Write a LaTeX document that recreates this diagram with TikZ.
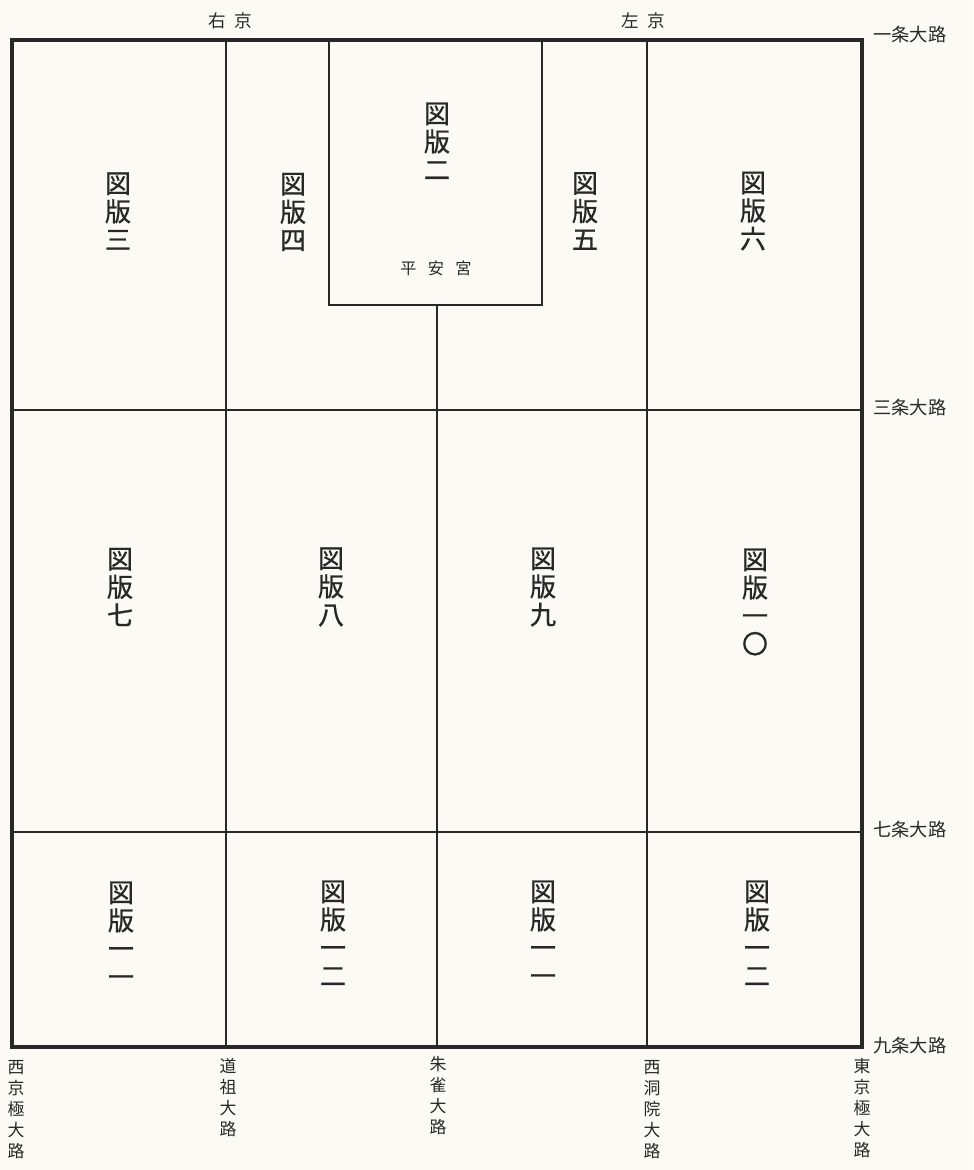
\documentclass[tikz,border=0pt]{standalone}
\usepackage{fontspec}
\newfontfamily\cjk{Noto Sans CJK JP}
\newfontfamily\cjkplate[FakeBold=0.9]{Noto Sans CJK JP}
\usetikzlibrary{positioning}
\definecolor{paper}{RGB}{252,250,245}
\definecolor{ink}{RGB}{40,40,40}

\begin{document}
\begin{tikzpicture}[
    x=0.025cm, y=-0.025cm,
    wall/.style={draw=ink, line width=2.2pt},
    avenue/.style={draw=ink, line width=1.6pt},
    plate/.style={font=\cjkplate\fontsize{18.5}{20}\selectfont, align=center, inner sep=0pt, text=ink},
    ward/.style={font=\cjk\fontsize{12.5}{14}\selectfont, inner sep=0pt, text=ink},
    roadname/.style={font=\cjk\fontsize{13}{14}\selectfont, inner sep=0pt, text=ink, anchor=west},
    gate/.style={font=\cjk\fontsize{12}{15}\selectfont, align=center, inner sep=0pt, text=ink, anchor=north}
]

% Paper
\fill[paper] (0,0) rectangle (973,1170);
\useasboundingbox (0,0) rectangle (973,1170);

% Streets
\coordinate (nw) at (12,40);
\coordinate (se) at (862,1047);
\draw[avenue] (226,40) -- (226,1047);
\draw[avenue] (437,305) -- (437,1047);
\draw[avenue] (647,40) -- (647,1047);
\draw[avenue] (12,410) -- (862,410);
\draw[avenue] (12,832) -- (862,832);

% Palace
\draw[avenue] (329,40) rectangle (542,305);
\node[font=\cjk\fontsize{11.5}{14}\selectfont, text=ink] (heian) at (436,268) {平\hspace{0.7em}安\hspace{0.7em}宮};

% Outer wall
\draw[wall] (nw) rectangle (se);

% Wards
\node[ward] (ukyo) at (230,21) {右\hspace{0.5em}京};
\node[ward] (sakyo) at (643,21) {左\hspace{0.5em}京};

% East-west avenues
\node[roadname] (ichijo) at (873,35) {一条大路};
\node[roadname] (sanjo) at (873,408) {三条大路};
\node[roadname] (shichijo) at (873,830) {七条大路};
\node[roadname] (kujo) at (873,1046) {九条大路};

% North-south avenues
\node[gate] (nishikyogoku) at (16,1060) {西\\京\\極\\大\\路};
\node[gate] (sai) at (228,1058) {道\\祖\\大\\路};
\node[gate] (suzaku) at (438,1056) {朱\\雀\\大\\路};
\node[gate] (nishinotoin) at (652,1060) {西\\洞\\院\\大\\路};
\node[gate] (higashikyogoku) at (862,1058) {東\\京\\極\\大\\路};

% Plates, north
\node[plate] (p2) at (437,141) {図\\版\\二};
\node[plate] (p3) at (118,211) {図\\版\\三};
\node[plate] (p4) at (293,212) {図\\版\\四};
\node[plate] (p5) at (585,211) {図\\版\\五};
\node[plate] (p6) at (753,211) {図\\版\\六};

% Plates, middle
\node[plate] (p7) at (120,587) {図\\版\\七};
\node[plate] (p8) at (331,587) {図\\版\\八};
\node[plate] (p9) at (543,587) {図\\版\\九};
\node[plate] (p10) at (755,602) {図\\版\\一\\〇};

% Plates, south
\node[plate] (p11w) at (121,934) {図\\版\\一\\一};
\node[plate] (p12w) at (333,933) {図\\版\\一\\二};
\node[plate] (p11e) at (543,933) {図\\版\\一\\一};
\node[plate] (p12e) at (757,933) {図\\版\\一\\二};

\end{tikzpicture}
\end{document}
